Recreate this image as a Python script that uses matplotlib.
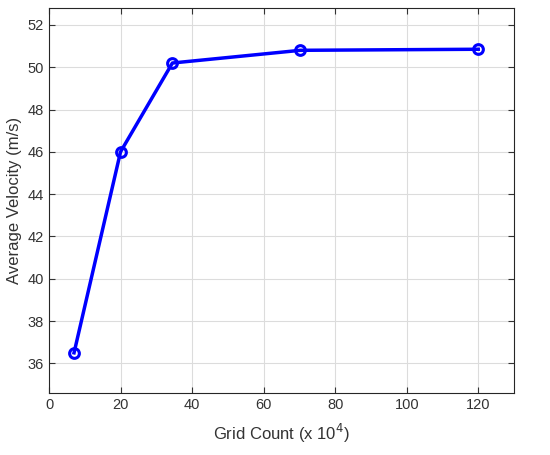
import matplotlib.pyplot as plt

grid_count = [7, 20, 34.5, 70.3, 120]        # x 10^4
avg_velocity = [36.5, 46.0, 50.2, 50.8, 50.85]  # m/s

plt.rcParams['font.family'] = ['Liberation Sans', 'DejaVu Sans']

fig = plt.figure(figsize=(5.5, 4.55), dpi=100)
ax = fig.add_axes([49/550, 1 - 393/455, 465/550, 385/455])

ax.plot(grid_count, avg_velocity, color='#0000ff', linewidth=2.5,
        marker='o', markersize=7, markerfacecolor='none', markeredgewidth=2.2)

ax.set_xlim(0, 130)
ax.set_ylim(34.6, 52.8)
ax.set_xticks(range(0, 121, 20))
ax.set_yticks(range(36, 53, 2))
ax.grid(True, color='#dcdcdc', linewidth=0.8)
ax.set_axisbelow(True)
ax.tick_params(direction='in', top=True, right=True, labelsize=10.5,
               colors='#333333', length=4)
for s in ax.spines.values():
    s.set_color('#262626')
    s.set_linewidth(0.8)

ax.set_xlabel('Grid Count (x 10$^4$)', fontsize=12, color='#333333', labelpad=7)
ax.set_ylabel('Average Velocity (m/s)', fontsize=12, color='#333333')

fig.savefig('out.png')
